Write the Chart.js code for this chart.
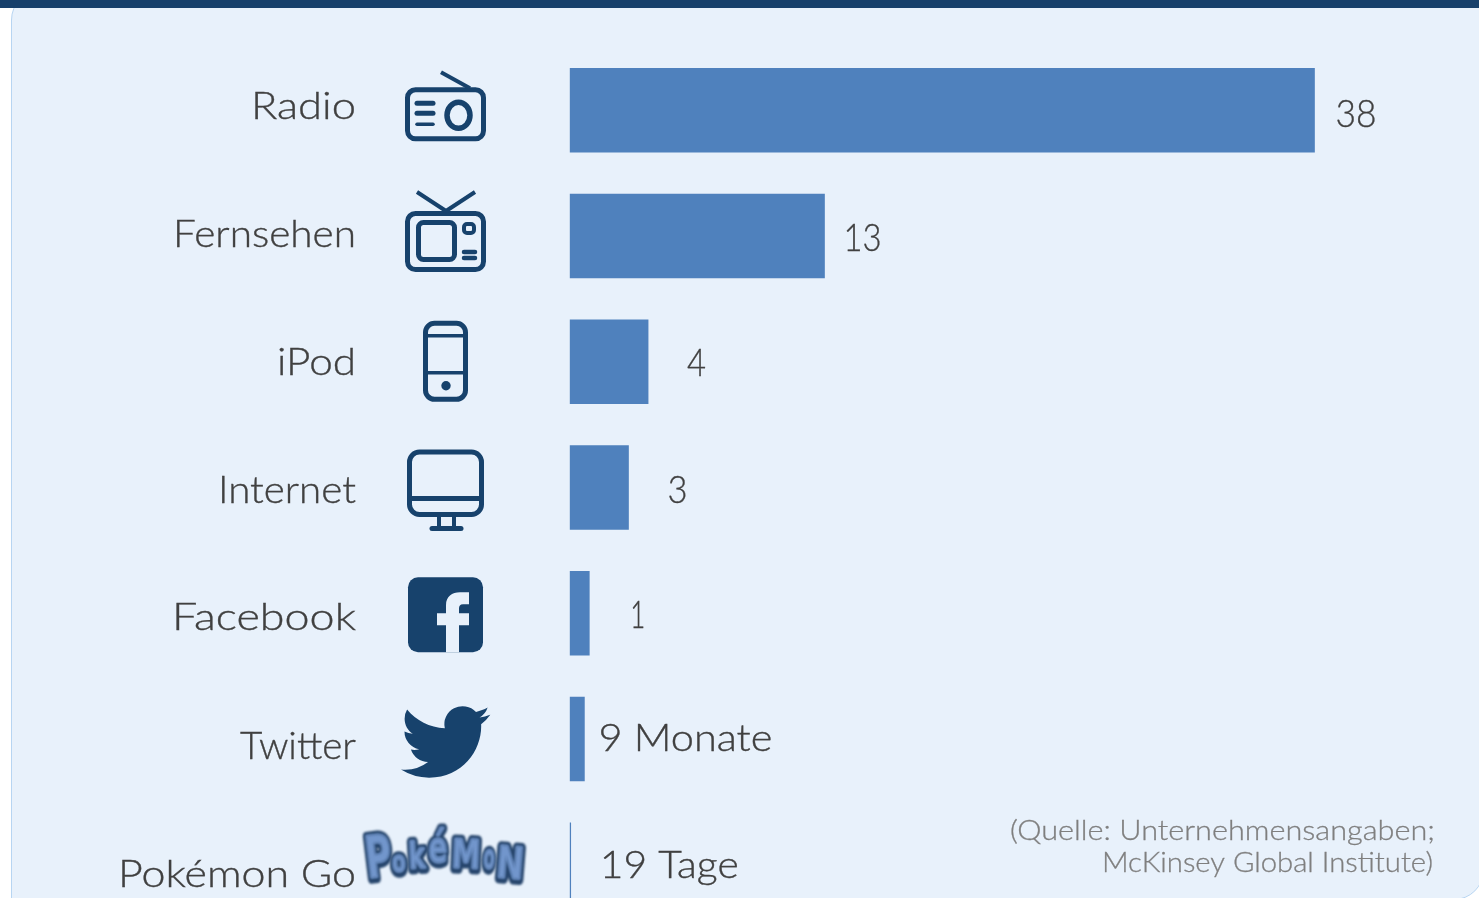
<!DOCTYPE html>
<html lang="de">
<head>
<meta charset="utf-8">
<title>Zeit bis 50 Millionen Nutzer</title>
<script src="https://cdn.jsdelivr.net/npm/chart.js@4/dist/chart.umd.min.js"></script>
<style>
  html, body { margin: 0; padding: 0; width: 1479px; height: 898px; overflow: hidden; background: #fff; }
  #panel { position: absolute; left: 10.5px; top: -10px; width: 1473.5px; height: 910px; box-sizing: border-box;
           background: #e8f1fb; border: 1.5px solid #b7d5f2; border-radius: 30px 30px 30px 0; }
  #band { position: absolute; left: 0; top: 0; width: 1479px; height: 8px; background: #17406b; }
  canvas { position: absolute; left: 0; top: 0; }
</style>
</head>
<body>
<div id="panel"></div>
<div id="band"></div>
<canvas id="chart" width="1479" height="930"></canvas>
<script>
// Media and how long each took to reach its audience
const categories = ['Radio', 'Fernsehen', 'iPod', 'Internet', 'Facebook', 'Twitter', 'Pokémon Go'];
const yearsToReach = [38, 13, 4, 3, 1, 0.75, 0.052];
const valueLabels = ['38', '13', '4', '3', '1', '9 Monate', '19 Tage'];
const sourceLines = ['(Quelle: Unternehmensangaben;', 'McKinsey Global Institute)'];

// Text placement: run widths, gap from bar end to value label, vertical nudges
const categoryWidths = [105, 183, 79, 138, 184, 116, 238];
const categoryNudge = [-3, -1, 1, 3.5, 5, 8, 10];
const labelWidths = [41, 38, 19, 20, 15, 174, 139];
const labelGap = [21, 19, 39, 39, 41, 14, 29];
const labelNudge = [5, 3, 2, 3.5, 3, 0, 1];
const sourceWidths = [425, 331];

const NAVY = '#17426c';
const TEXT = '#404040';
const FONT = '300 37px Lato, "Open Sans", sans-serif';
const SOURCE_FONT = '300 27px Lato, "Open Sans", sans-serif';

// Writes a text run stretched to a given width, anchored left or right at x
function fittedText(c, text, x, y, width, align, weight) {
  const natural = c.measureText(text).width;
  c.save();
  c.translate(x, y);
  c.scale(width / natural, 1);
  c.textAlign = align;
  c.textBaseline = 'middle';
  c.lineWidth = weight;
  c.strokeStyle = c.fillStyle;
  c.fillText(text, 0, 0);
  c.strokeText(text, 0, 0);
  c.restore();
}

function strokeBox(c, x0, y0, x1, y1, r, w) {
  c.lineWidth = w;
  c.beginPath();
  c.roundRect(x0 + w / 2, y0 + w / 2, x1 - x0 - w, y1 - y0 - w, r);
  c.stroke();
}
function seg(c, x0, y0, x1, y1, w) {
  c.lineWidth = w;
  c.beginPath();
  c.moveTo(x0, y0);
  c.lineTo(x1, y1);
  c.stroke();
}

// One icon per medium, drawn around the centre line of its bar (y = 0)
const icons = [
  function radio(c) {
    strokeBox(c, 405, -23, 486, 31, 8, 5);
    seg(c, 441, -38, 470, -22, 4);
    c.lineCap = 'round';
    seg(c, 417, -7, 433, -7, 5);
    seg(c, 417, 3, 433, 3, 5);
    seg(c, 417, 14, 433, 14, 3.5);
    c.lineCap = 'butt';
    c.lineWidth = 5.5;
    c.beginPath();
    c.ellipse(458.5, 5, 11.5, 13, 0, 0, Math.PI * 2);
    c.stroke();
  },
  function television(c) {
    strokeBox(c, 405, -25, 486, 36, 8, 5);
    c.lineWidth = 4;
    c.beginPath();
    c.moveTo(417, -44);
    c.lineTo(446, -25);
    c.lineTo(475, -44);
    c.stroke();
    strokeBox(c, 416, -16, 457, 26, 5, 5);
    strokeBox(c, 462, -14, 476, -1, 3, 4);
    c.lineCap = 'round';
    seg(c, 464, 16, 475, 16, 4.5);
    seg(c, 464, 22, 475, 22, 4.5);
    c.lineCap = 'butt';
  },
  function phone(c) {
    strokeBox(c, 423, -41, 468, 40, 9, 5);
    seg(c, 425, -26, 466, -26, 3.5);
    seg(c, 425, 11, 466, 11, 3.5);
    c.beginPath();
    c.arc(446, 24, 4.7, 0, Math.PI * 2);
    c.fill();
  },
  function monitor(c) {
    strokeBox(c, 407, -38, 484, 29.5, 10, 5);
    seg(c, 409, 11, 482, 11, 5);
    seg(c, 439, 29, 439, 40, 4);
    seg(c, 454, 29, 454, 40, 4);
    c.lineCap = 'round';
    seg(c, 432, 41, 461, 41, 5);
    c.lineCap = 'butt';
  },
  function facebook(c, bg) {
    c.beginPath();
    c.roundRect(408, -36, 75, 75, 10);
    c.fill();
    c.fillStyle = bg;
    c.fill(new Path2D('M446 39 L446 12 L437 12 L437 0 L446 0 L446 -8 C446 -17 452 -21 460 -21 L469 -21 L469 -9 L463 -9 C460 -9 459 -7 459 -5 L459 0 L469 0 L469 12 L459 12 L459 39 Z'));
  },
  function twitter(c) {
    c.save();
    c.translate(401, -41);
    c.scale(3.72, 3.66);
    c.fill(new Path2D('M23.953 4.57a10 10 0 01-2.825.775 4.958 4.958 0 002.163-2.723c-.951.555-2.005.959-3.127 1.184a4.92 4.92 0 00-8.384 4.482C7.69 8.095 4.067 6.13 1.64 3.162a4.822 4.822 0 00-.666 2.475c0 1.71.87 3.213 2.188 4.096a4.904 4.904 0 01-2.228-.616v.06a4.923 4.923 0 003.946 4.827 4.996 4.996 0 01-2.212.085 4.936 4.936 0 004.604 3.417 9.867 9.867 0 01-6.102 2.105c-.39 0-.779-.023-1.17-.067a13.995 13.995 0 007.557 2.209c9.053 0 13.998-7.496 13.998-13.985 0-.21 0-.42-.015-.63A9.935 9.935 0 0024 4.59z'));
    c.restore();
  },
  function pokemon(c) {
    // Arched wordmark: glyph, centre x, centre y, font size, x-scale, rotation
    const letters = [
      ['P', 379, -3, 58, 0.62, -0.12], ['o', 399, -1, 29, 0.68, -0.05], ['k', 417, -6, 36, 0.68, -0.05],
      ['é', 438, -14, 42, 0.66, 0], ['M', 466, -7, 40, 0.72, 0.04], ['o', 489, -5, 33, 0.5, 0.05], ['N', 510, 2, 44, 0.74, 0.08]
    ];
    c.lineJoin = 'round';
    c.textAlign = 'center';
    c.textBaseline = 'middle';
    c.filter = 'blur(0.8px)';
    // Outlines first so that every fill sits on top of the dark edge
    for (const pass of ['stroke', 'fill']) {
      for (const [ch, x, y, size, sx, rot] of letters) {
        c.save();
        c.translate(x, y);
        c.rotate(rot);
        c.font = 'bold ' + size + 'px "DejaVu Sans", sans-serif';
        c.scale(sx, 1);
        if (pass === 'stroke') {
          c.lineWidth = 10;
          c.strokeStyle = '#27466d';
          c.strokeText(ch, 0, 1);
        } else {
          c.fillStyle = '#7296cc';
          c.strokeStyle = '#7296cc';
          c.lineWidth = 1.5;
          c.fillText(ch, 0, 0);
          c.strokeText(ch, 0, 0);
        }
        c.restore();
      }
    }
    c.filter = 'none';
  }
];

const decorations = {
  id: 'decorations',
  afterDatasetsDraw(chart) {
    const c = chart.ctx;
    const x = chart.scales.x;
    const y = chart.scales.y;
    c.save();

    categories.forEach((name, i) => {
      const mid = y.getPixelForValue(i);

      // Category name and the value stated next to its bar
      c.font = FONT;
      c.fillStyle = TEXT;
      fittedText(c, name, 356, mid + categoryNudge[i], categoryWidths[i], 'right', 0.35);
      fittedText(c, valueLabels[i], x.getPixelForValue(yearsToReach[i]) + labelGap[i],
                 mid + labelNudge[i], labelWidths[i], 'left', 0.35);

      // Icon
      c.save();
      c.translate(0, mid);
      c.fillStyle = NAVY;
      c.strokeStyle = NAVY;
      icons[i](c, '#e8f1fb');
      c.restore();
    });

    // Source note
    c.font = SOURCE_FONT;
    c.fillStyle = '#7f7f7f';
    fittedText(c, sourceLines[0], 1435, 831, sourceWidths[0], 'right', 0.3);
    fittedText(c, sourceLines[1], 1433, 863, sourceWidths[1], 'right', 0.3);

    c.restore();
  }
};

new Chart(document.getElementById('chart'), {
  type: 'bar',
  data: {
    labels: categories,
    datasets: [{
      data: yearsToReach,
      backgroundColor: '#4f81bd',
      borderWidth: 0,
      barThickness: 84
    }]
  },
  options: {
    indexAxis: 'y',
    responsive: false,
    animation: false,
    layout: { padding: { left: 569.7, top: 47.4, right: 125.3, bottom: 2.35 } },
    plugins: { legend: { display: false }, tooltip: { enabled: false } },
    scales: {
      x: { display: false, min: 0, max: 40 },
      y: { display: false }
    }
  },
  plugins: [decorations]
});
</script>
</body>
</html>
